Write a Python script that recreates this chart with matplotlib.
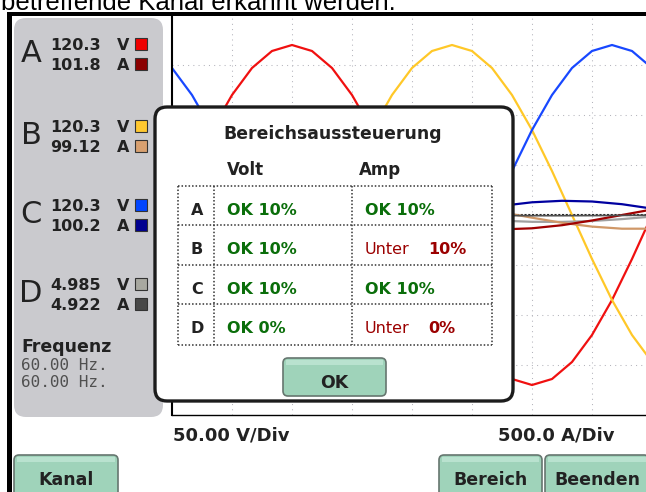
import numpy as np
import matplotlib.pyplot as plt
from matplotlib.patches import FancyBboxPatch, Rectangle

# --- scope traces (time in divisions, 8 div = one 60 Hz period) ---
t_volt = np.linspace(0, 8, 25)
volt_a = [0, 44, 85, 120, 147, 164, 170, 164, 147, 120, 85, 44, 0,
          -44, -85, -120, -147, -164, -170, -164, -147, -120, -85, -44, 0]
volt_b = [-147, -164, -170, -164, -147, -120, -85, -44, 0, 44, 85, 120, 147,
          164, 170, 164, 147, 120, 85, 44, 0, -44, -85, -120, -147]
volt_c = [147, 120, 85, 44, 0, -44, -85, -120, -147, -164, -170, -164, -147,
          -120, -85, -44, 0, 44, 85, 120, 147, 164, 170, 164, 147]

t_small = np.linspace(0, 8, 17)
volt_d = [-1.6, 1.1, 3.7, 5.7, 6.8, 6.9, 6.0, 4.1, 1.6, -1.1, -3.7, -5.7, -6.8, -6.9, -6.0, -4.1, -1.6]
amp_a = [55, 102, 133, 144, 133, 102, 55, 0, -55, -102, -133, -144, -133, -102, -55, 0, 55]
amp_b = [-137, -116, -78, -27, 27, 78, 116, 137, 137, 116, 78, 27, -27, -78, -116, -137, -137]
amp_c = [64, 11, -44, -92, -127, -142, -135, -108, -64, -11, 44, 92, 127, 142, 135, 108, 64]
amp_d = [-1.6, 1.1, 3.7, 5.7, 6.8, 6.9, 6.0, 4.1, 1.6, -1.1, -3.7, -5.7, -6.8, -6.9, -6.0, -4.1, -1.6]

# --- side panel readings ---
channels = ['A', 'B', 'C', 'D']
volts_rms = ['120.3', '120.3', '120.3', '4.985']
amps_rms = ['101.8', '99.12', '100.2', '4.922']
volt_colors = ['#ee0000', '#ffc830', '#0044ff', '#a8a8a0']
amp_colors = ['#8b0000', '#d8a070', '#000090', '#484848']
freq_vals = ['60.00 Hz.', '60.00 Hz.']

# --- range dialog ---
range_volt = ['OK 10%', 'OK 10%', 'OK 10%', 'OK 0%']
range_amp_state = ['OK', 'Unter', 'OK', 'Unter']
range_amp_pct = ['10%', '10%', '10%', '0%']

W, H = 646, 492
fig = plt.figure(figsize=(W / 100, H / 100), dpi=100)
fig.patch.set_facecolor('white')

# scope area: x 172..652 px, y 15..415 px
scope = fig.add_axes([172 / W, (H - 415) / H, 480 / W, 400 / H], zorder=1)
scope.set_xlim(0, 8)
scope.set_ylim(-200, 200)
scope.set_xticks(range(1, 8))
scope.set_yticks([-150, -100, -50, 50, 100, 150, 200])
scope.grid(True, color='#b4b4bc', ls=(0, (1, 4)), lw=0.75)
scope.tick_params(length=0, labelleft=False, labelbottom=False)
for s in ['top', 'right']:
    scope.spines[s].set_visible(False)
scope.spines['left'].set_linewidth(1.5)
scope.spines['bottom'].set_linewidth(1.0)
scope.axhline(0, color='#222222', lw=1.5, ls=(0, (1, 0.8)), zorder=1.5)

scope.plot(t_volt, volt_a, color='#f01010', lw=1.6)
scope.plot(t_volt, volt_b, color='#ffc828', lw=1.6)
scope.plot(t_volt, volt_c, color='#1848ff', lw=1.6)
scope.plot(t_small, volt_d, color='#a0a0a0', lw=1.6)

cur = scope.twinx()
cur.set_ylim(-2000, 2000)
cur.set_yticks([])
for s in cur.spines.values():
    s.set_visible(False)
cur.plot(t_small, amp_c, color='#0000a0', lw=1.6)
cur.plot(t_small, amp_b, color='#d09868', lw=1.6)
cur.plot(t_small, amp_a, color='#a00000', lw=1.6)
cur.plot(t_small, amp_d, color='#505050', lw=1.2)

# UI overlay in pixel coordinates
ui = fig.add_axes([0, 0, 1, 1], zorder=5)
ui.set_xlim(0, W)
ui.set_ylim(H, 0)
ui.axis('off')

def txt(x, y, s, size=11.5, weight='bold', color='#222222', ha='left', family='DejaVu Sans'):
    ui.text(x, y, s, fontsize=size, fontweight=weight, color=color, ha=ha,
            va='baseline', family=family)

def button(x, y, w, h, label):
    ui.add_patch(FancyBboxPatch((x, y), w, h, boxstyle='round,pad=0,rounding_size=5',
                                fc='#9fd3ba', ec='#66766f', lw=1.2))
    ui.add_patch(Rectangle((x + 3, y + 2), w - 6, 5, fc='#b9e2cf', ec='none'))
    txt(x + w / 2, y + 30, label, size=12.5, ha='center')

# cut-off sentence at the top (also cut off in the original screenshot)
ui.text(1, 9.5, 'betreffende Kanal erkannt werden.', fontsize=18.5,
        family='Liberation Sans', color='black', va='baseline')

# black frame
ui.add_patch(Rectangle((7, 12), 5, 480, fc='black', ec='none'))
ui.add_patch(Rectangle((7, 12), 639, 4, fc='black', ec='none'))

# side panel
ui.add_patch(FancyBboxPatch((14, 18), 149, 399, boxstyle='round,pad=0,rounding_size=12',
                            fc='#cacace', ec='none'))
base = [50, 132, 211, 290]
for i, ch in enumerate(channels):
    b = base[i]
    txt(31, b + 12, ch, size=22, weight='normal', ha='center')
    txt(50, b, volts_rms[i])
    txt(50, b + 20, amps_rms[i])
    txt(123, b, 'V', ha='center')
    txt(123, b + 20, 'A', ha='center')
    ui.add_patch(Rectangle((135, b - 12), 12, 12, fc=volt_colors[i], ec='#333333', lw=0.8))
    ui.add_patch(Rectangle((135, b + 8), 12, 12, fc=amp_colors[i], ec='#333333', lw=0.8))

txt(21, 352, 'Frequenz', size=12.5)
for j, f in enumerate(freq_vals):
    txt(21, 370 + j * 17, f, weight='normal', color='#505050', family='DejaVu Sans Mono')

# scale labels
txt(173, 440, '50.00 V/Div', size=13)
txt(498, 440, '500.0 A/Div', size=13)

# bottom buttons
button(14, 455, 104, 45, 'Kanal')
button(439, 455, 103, 45, 'Bereich')
button(545, 455, 104, 45, 'Beenden')

# dialog
ui.add_patch(FancyBboxPatch((155, 107), 358, 294, boxstyle='round,pad=0,rounding_size=12',
                            fc='white', ec='#1c1c1c', lw=2.4))
txt(333, 139, 'Bereichsaussteuerung', size=12.4, ha='center')
txt(227, 175, 'Volt', size=12)
txt(359, 175, 'Amp', size=12)

rows_y = [186, 225, 265, 304, 345]
cols_x = [178, 214, 352, 492]
dot = dict(color='#333333', lw=1.1, ls=(0, (1, 1.3)))
for y in rows_y:
    ui.plot([cols_x[0], cols_x[-1]], [y, y], **dot)
for x in cols_x:
    ui.plot([x, x], [rows_y[0], rows_y[-1]], **dot)

green = '#0a6e0a'
red = '#9b0000'
for i, ch in enumerate(channels):
    yb = rows_y[i] + 29
    txt(197, yb, ch, ha='center')
    txt(227, yb, range_volt[i], color=green)
    if range_amp_state[i] == 'OK':
        txt(365, yb, 'OK ' + range_amp_pct[i], color=green)
    else:
        txt(365, yb, 'Unter', weight='normal', color=red)
        txt(428, yb, range_amp_pct[i], color=red)

button(283, 358, 103, 38, 'OK')

fig.savefig('out.png', dpi=100, facecolor='white')
